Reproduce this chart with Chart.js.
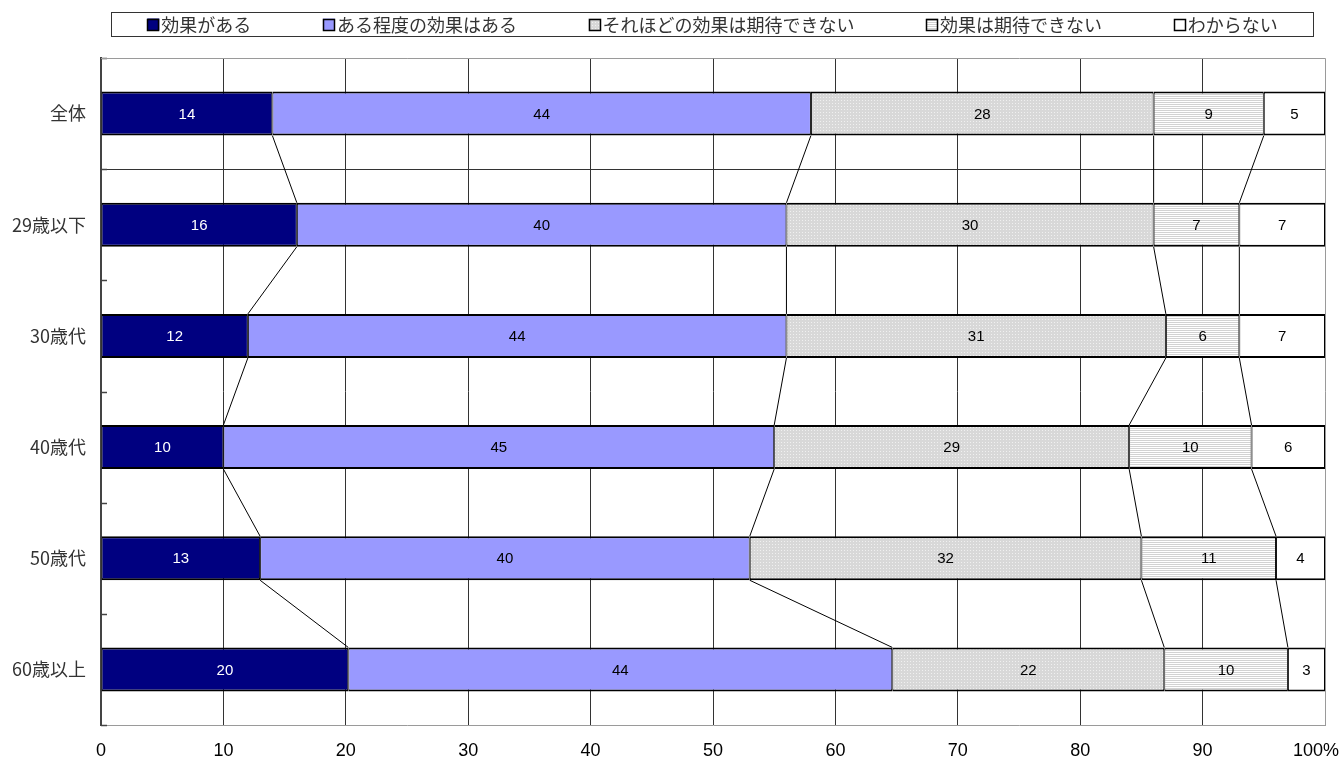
<!DOCTYPE html>
<html>
<head>
<meta charset="utf-8">
<script src="https://cdn.jsdelivr.net/npm/chart.js@4/dist/chart.umd.min.js"></script>
<style>
  html, body { margin: 0; padding: 0; background: #fff; }
  #wrap { width: 1340px; height: 764px; position: relative; }
</style>
</head>
<body>
<div id="wrap"><canvas id="c" width="1340" height="764"></canvas></div>
<script>
// Survey answers by age group (counts shown as labels; bars are row shares)
const categories = ['全体', '29歳以下', '30歳代', '40歳代', '50歳代', '60歳以上'];
const seriesNames = ['効果がある', 'ある程度の効果はある', 'それほどの効果は期待できない', '効果は期待できない', 'わからない'];
const effective   = [14, 16, 12, 10, 13, 20];
const somewhat    = [44, 40, 44, 45, 40, 44];
const notMuch     = [28, 30, 31, 29, 32, 22];
const notExpected = [9, 7, 6, 10, 11, 10];
const unknown     = [5, 7, 7, 6, 4, 3];
const xTickValues = [0, 10, 20, 30, 40, 50, 60, 70, 80, 90, 100];

const seriesValues = [effective, somewhat, notMuch, notExpected, unknown];

// 100% stacking: each row is scaled to its own total
const rowTotals = categories.map((_, i) => seriesValues.reduce((s, arr) => s + arr[i], 0));
const shares = seriesValues.map(arr => arr.map((v, i) => v / rowTotals[i] * 100));

function makePattern(w, h, paint) {
  const cv = document.createElement('canvas');
  cv.width = w; cv.height = h;
  const g = cv.getContext('2d');
  paint(g);
  return g.createPattern(cv, 'repeat');
}
const ctx = document.getElementById('c').getContext('2d');
const dotted = makePattern(3, 3, g => {
  g.fillStyle = '#d8d8d8'; g.fillRect(0, 0, 3, 3);
  g.fillStyle = '#f0f0f0'; g.fillRect(1, 1, 1, 1);
});
const striped = makePattern(2, 2, g => {
  g.fillStyle = '#ffffff'; g.fillRect(0, 0, 2, 2);
  g.fillStyle = '#d2d2d2'; g.fillRect(0, 0, 2, 1);
});
const fills = ['#000080', '#9999ff', dotted, striped, '#ffffff'];
const labelColors = ['#ffffff', '#000000', '#000000', '#000000', '#000000'];

const JP = '"Noto Sans CJK JP", "Noto Sans", sans-serif';
const NUM = '"Liberation Sans", Arial, sans-serif';

const decorPlugin = {
  id: 'decor',
  beforeDatasetsDraw(chart) {
    const c = chart.ctx, a = chart.chartArea, ys = chart.scales.y;
    c.save();
    // separator under the overall row
    const ySep = Math.round(ys.getPixelForValue(0.5)) + 0.5;
    c.strokeStyle = '#333'; c.lineWidth = 1;
    c.beginPath(); c.moveTo(a.left, ySep); c.lineTo(a.right, ySep); c.stroke();
    // short category marks inside the axis
    c.strokeStyle = '#444'; c.lineWidth = 1.5;
    for (let i = 0; i <= categories.length; i++) {
      const y = Math.round(ys.getPixelForValue(i - 0.5)) + 0.5;
      c.beginPath(); c.moveTo(a.left, y); c.lineTo(a.left + 6, y); c.stroke();
    }
    // top and right frame
    c.strokeStyle = '#9a9a9a'; c.lineWidth = 1;
    c.beginPath();
    c.moveTo(a.left, a.top + 0.5); c.lineTo(a.right + 0.5, a.top + 0.5);
    c.lineTo(a.right + 0.5, a.bottom);
    c.stroke();
    // series lines joining segment ends of neighbouring bars
    c.strokeStyle = '#000'; c.lineWidth = 1;
    for (let s = 0; s < seriesValues.length - 1; s++) {
      const els = chart.getDatasetMeta(s).data;
      for (let k = 0; k < els.length - 1; k++) {
        const p0 = els[k].getProps(['x', 'y', 'height'], true);
        const p1 = els[k + 1].getProps(['x', 'y', 'height'], true);
        c.beginPath();
        c.moveTo(p0.x, p0.y + p0.height / 2);
        c.lineTo(p1.x, p1.y - p1.height / 2);
        c.stroke();
      }
    }
    c.restore();
  },
  afterDatasetsDraw(chart) {
    const c = chart.ctx;
    c.save();
    c.font = '15px ' + NUM;
    c.textAlign = 'center';
    c.textBaseline = 'middle';
    seriesValues.forEach((arr, s) => {
      const els = chart.getDatasetMeta(s).data;
      els.forEach((el, i) => {
        const p = el.getProps(['x', 'y', 'base'], true);
        c.fillStyle = labelColors[s];
        c.fillText(String(arr[i]), (p.x + p.base) / 2, p.y + 1);
      });
    });
    c.restore();
  },
  afterDraw(chart) {
    // legend row in a framed box
    const c = chart.ctx;
    const box = { left: 111.5, top: 12.5, right: 1313.5, bottom: 36.5 };
    c.save();
    c.strokeStyle = '#333'; c.lineWidth = 1;
    c.strokeRect(box.left, box.top, box.right - box.left, box.bottom - box.top);
    c.font = '18px ' + JP;
    c.textBaseline = 'middle';
    c.textAlign = 'left';
    const sw = 12, gapIn = 2;
    const widths = seriesNames.map(t => sw + gapIn + c.measureText(t).width);
    const total = widths.reduce((a, b) => a + b, 0);
    const gap = ((box.right - box.left) - total) / seriesNames.length;
    let x = box.left + gap / 2;
    const cy = (box.top + box.bottom) / 2;
    seriesNames.forEach((t, s) => {
      c.fillStyle = fills[s];
      c.fillRect(x, cy - sw / 2, sw, sw);
      c.strokeStyle = '#000'; c.lineWidth = 1.5;
      c.strokeRect(Math.round(x) + 0.5, Math.round(cy - sw / 2) + 0.5, sw - 1, sw - 1);
      c.fillStyle = '#333';
      c.fillText(t, x + sw + gapIn, cy + 1);
      x += widths[s] + gap;
    });
    c.restore();
  }
};

new Chart(ctx, {
  type: 'bar',
  data: {
    labels: categories,
    datasets: seriesNames.map((name, s) => ({
      label: name,
      data: shares[s],
      backgroundColor: fills[s],
      borderColor: '#000',
      borderWidth: { top: 2, bottom: 2, left: 1, right: 1 },
      borderSkipped: false,
      barThickness: 44,
      inflateAmount: 0
    }))
  },
  options: {
    indexAxis: 'y',
    responsive: false,
    animation: false,
    devicePixelRatio: 1,
    layout: { padding: { top: 58, right: 15, left: 0, bottom: 0 } },
    plugins: {
      legend: { display: false },
      tooltip: { enabled: false }
    },
    scales: {
      x: {
        type: 'linear',
        stacked: true,
        min: 0,
        max: 100,
        afterBuildTicks(scale) { scale.ticks = xTickValues.map(v => ({ value: v })); },
        afterFit(scale) { scale.height = 39; scale.paddingLeft = 0; scale.paddingRight = 0; },
        ticks: {
          autoSkip: false,
          maxRotation: 0,
          padding: 15,
          color: '#000',
          font: { family: NUM, size: 18 },
          callback: v => (v === 100 ? '100%\u2003' : String(v))
        },
        grid: {
          drawTicks: false,
          color: c => (c.index === 0 || c.index === xTickValues.length - 1) ? 'rgba(0,0,0,0)' : '#333',
          lineWidth: 1
        },
        border: { color: '#9a9a9a', width: 1 }
      },
      y: {
        type: 'category',
        stacked: true,
        offset: true,
        afterFit(scale) { scale.width = 101; scale.paddingTop = 0; scale.paddingBottom = 0; },
        ticks: {
          padding: 15,
          color: '#333',
          font: { family: JP, size: 18 }
        },
        grid: { display: false, drawTicks: false },
        border: { color: '#444', width: 2 }
      }
    }
  },
  plugins: [decorPlugin]
});
</script>
</body>
</html>
